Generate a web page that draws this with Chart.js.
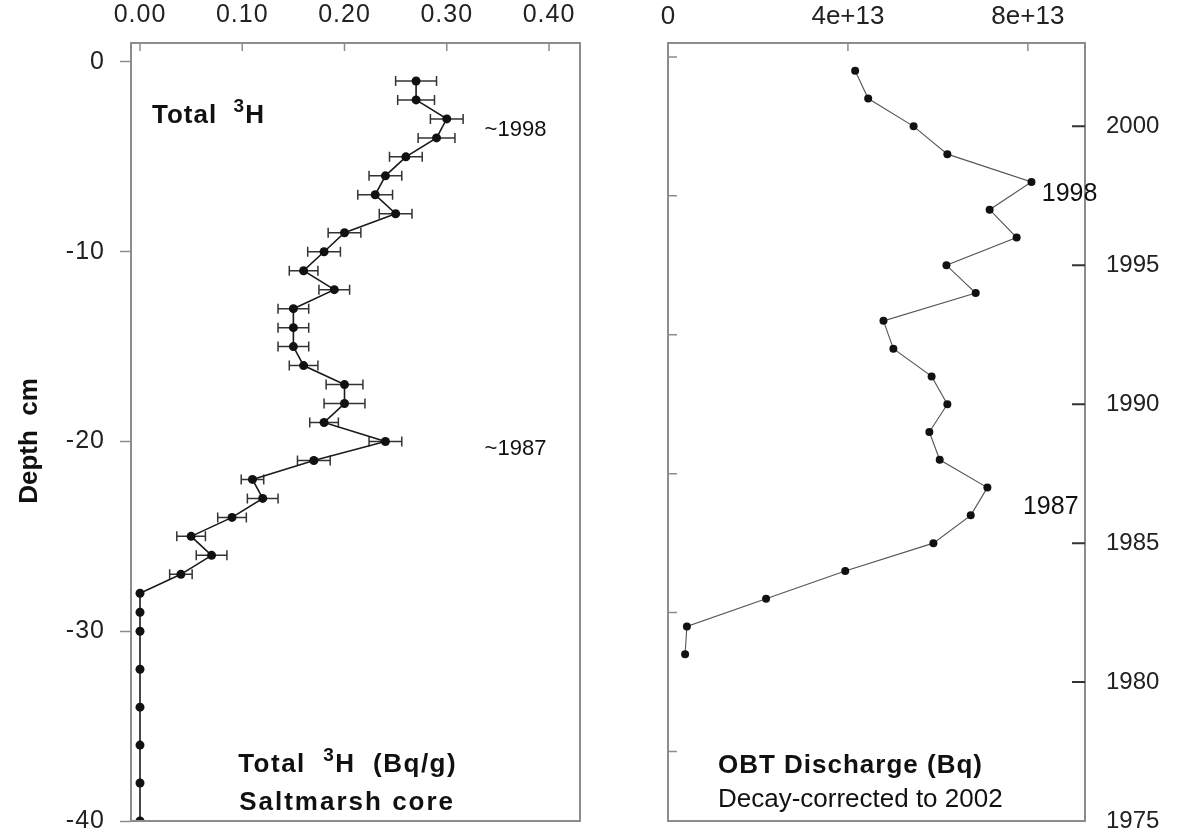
<!DOCTYPE html>
<html>
<head>
<meta charset="utf-8">
<script src="https://cdn.jsdelivr.net/npm/chart.js@4/dist/chart.umd.min.js"></script>
<style>
  body { margin: 0; background: #fff; }
  #wrap { position: relative; width: 1203px; height: 836px; }
  canvas { position: absolute; top: 0; }
  #left { left: 0; }
  #right { left: 600px; }
</style>
</head>
<body>
<div id="wrap">
  <canvas id="left" width="600" height="836"></canvas>
  <canvas id="right" width="603" height="836"></canvas>
</div>
<script>
// Saltmarsh core: depth (cm) and total 3H (Bq/g) with +/- error
const depths = [-1, -2, -3, -4, -5, -6, -7, -8, -9, -10, -11, -12, -13, -14, -15, -16, -17, -18, -19, -20,
                -21, -22, -23, -24, -25, -26, -27, -28, -29, -30, -32, -34, -36, -38, -40];
const tritium = [0.27, 0.27, 0.30, 0.29, 0.26, 0.24, 0.23, 0.25, 0.20, 0.18, 0.16, 0.19, 0.15, 0.15, 0.15, 0.16, 0.20, 0.20, 0.18, 0.24,
                 0.17, 0.11, 0.12, 0.09, 0.05, 0.07, 0.04, 0, 0, 0, 0, 0, 0, 0, 0];
const tritiumErr = [0.02, 0.018, 0.016, 0.018, 0.016, 0.016, 0.017, 0.016, 0.016, 0.016, 0.014, 0.015, 0.015, 0.015, 0.015, 0.014, 0.018, 0.02, 0.014, 0.016,
                    0.016, 0.011, 0.015, 0.014, 0.014, 0.015, 0.011, 0, 0, 0, 0, 0, 0, 0, 0];

// OBT discharge by year (Bq), decay-corrected to 2002
const years = [2002, 2001, 2000, 1999, 1998, 1997, 1996, 1995, 1994, 1993, 1992,
               1991, 1990, 1989, 1988, 1987, 1986, 1985, 1984, 1983, 1982, 1981];
const obt = [4.16e13, 4.45e13, 5.46e13, 6.21e13, 8.08e13, 7.15e13, 7.75e13, 6.19e13, 6.84e13, 4.79e13, 5.01e13,
             5.86e13, 6.21e13, 5.81e13, 6.04e13, 7.10e13, 6.73e13, 5.90e13, 3.94e13, 2.18e13, 0.42e13, 0.38e13];

// tick positions
const tritiumTicks = [0, 0.1, 0.2, 0.3, 0.4];
const depthTicks = [0, -10, -20, -30, -40];
const obtTicks = [0, 4e13, 8e13];
const yearTicks = [1975, 1980, 1985, 1990, 1995, 2000];
const yearMinorTicks = [1977.5, 1982.5, 1987.5, 1992.5, 1997.5, 2002.5];

const fam = '"Liberation Sans", Arial, Helvetica, sans-serif';
const boxColor = '#8c8c8c';

function drawParts(ctx, parts, x, y, size, weight, spacing) {
  let cx = x;
  parts.forEach(p => {
    const s = p.sup ? Math.round(size * 0.72) : size;
    ctx.font = `${weight} ${s}px ${fam}`;
    ctx.letterSpacing = spacing + 'px';
    ctx.fillText(p.t, cx, p.sup ? y - size * 0.42 : y);
    cx += ctx.measureText(p.t).width;
  });
  ctx.letterSpacing = '0px';
}

// fixed axis sizes, no extra label padding so the plot box lands where it should
function fixX(h) {
  return s => { s.height = h; s.paddingLeft = 0; s.paddingRight = 0; };
}
function fixY(w) {
  return s => { s.width = w; s.paddingTop = 0; s.paddingBottom = 0; };
}

// letter spacing for tick labels
const spacing = {
  id: 'spacing',
  beforeDraw(chart, args, opts) { chart.ctx.letterSpacing = (opts.px || 0) + 'px'; },
  afterDraw(chart) { chart.ctx.letterSpacing = '0px'; }
};

// horizontal error bars on the tritium series
const errorBars = {
  id: 'errorBars',
  beforeDatasetsDraw(chart, args, opts) {
    if (!opts.on) return;
    const { ctx, scales: { x, y } } = chart;
    ctx.save();
    ctx.strokeStyle = '#333';
    ctx.lineWidth = 1.5;
    depths.forEach((d, i) => {
      const e = tritiumErr[i];
      if (!e) return;
      const py = y.getPixelForValue(d);
      const x0 = x.getPixelForValue(tritium[i] - e);
      const x1 = x.getPixelForValue(tritium[i] + e);
      ctx.beginPath();
      ctx.moveTo(x0, py); ctx.lineTo(x1, py);
      ctx.moveTo(x0, py - 5); ctx.lineTo(x0, py + 5);
      ctx.moveTo(x1, py - 5); ctx.lineTo(x1, py + 5);
      ctx.stroke();
    });
    ctx.restore();
  }
};

// box around plot area + inward ticks
const frame = {
  id: 'frame',
  afterDraw(chart, args, opts) {
    const { ctx, chartArea: a, scales: { x, y } } = chart;
    ctx.save();
    ctx.strokeStyle = boxColor;
    ctx.lineWidth = 2;
    ctx.strokeRect(a.left, a.top, a.right - a.left, a.bottom - a.top);
    ctx.lineWidth = 1.5;
    ctx.beginPath();
    x.ticks.forEach(t => {
      const px = x.getPixelForValue(t.value);
      if (px - a.left < 3) return;
      ctx.moveTo(px, a.top); ctx.lineTo(px, a.top + 8);
    });
    (opts.leftTicks || []).forEach(v => {
      const py = y.getPixelForValue(v);
      ctx.moveTo(a.left, py); ctx.lineTo(a.left + 9, py);
    });
    ctx.stroke();
    if (opts.rightTicks) {
      ctx.strokeStyle = '#333';
      ctx.lineWidth = 2;
      ctx.beginPath();
      opts.rightTicks.forEach(v => {
        const py = y.getPixelForValue(v);
        if (a.bottom - py < 3) return;
        ctx.moveTo(a.right, py); ctx.lineTo(a.right - 13, py);
      });
      ctx.stroke();
    }
    if (opts.yTitle) {
      ctx.fillStyle = '#111';
      ctx.font = `bold 26px "Liberation Sans Narrow", "Arial Narrow", ${fam}`;
      ctx.textAlign = 'center';
      ctx.textBaseline = 'middle';
      ctx.translate(30, (a.top + a.bottom) / 2 + 9);
      ctx.rotate(-Math.PI / 2);
      ctx.fillText(opts.yTitle, 0, 0);
    }
    ctx.restore();
  }
};

// text notes placed in data coordinates
const notes = {
  id: 'notes',
  afterDraw(chart, args, opts) {
    const { ctx, scales: { x, y } } = chart;
    ctx.save();
    ctx.fillStyle = '#111';
    ctx.textAlign = 'left';
    ctx.textBaseline = 'alphabetic';
    (opts.items || []).forEach(n => {
      drawParts(ctx, n.parts, x.getPixelForValue(n.x), y.getPixelForValue(n.y), n.size, n.weight || 'normal', n.spacing || 0);
    });
    ctx.restore();
  }
};

const tickFont = size => ({ family: fam, size: size });

new Chart(document.getElementById('left'), {
  type: 'scatter',
  data: {
    datasets: [{
      data: depths.map((d, i) => ({ x: tritium[i], y: d })),
      showLine: true,
      borderColor: '#1a1a1a',
      borderWidth: 1.6,
      pointRadius: 4.5,
      pointBackgroundColor: '#111',
      pointBorderWidth: 0
    }]
  },
  options: {
    responsive: false,
    animation: false,
    layout: { padding: { left: 0, right: 20, top: 0, bottom: 15 } },
    plugins: {
      legend: { display: false },
      tooltip: { enabled: false },
      spacing: { px: 1 },
      errorBars: { on: true },
      frame: { yTitle: 'Depth  cm' },
      notes: {
        items: [
          { x: 0.0117, y: -3.21, size: 26, weight: 'bold', spacing: 1, parts: [{ t: 'Total  ' }, { t: '3', sup: true }, { t: 'H' }] },
          { x: 0.337, y: -3.9, size: 22, parts: [{ t: '~1998' }] },
          { x: 0.337, y: -20.7, size: 22, parts: [{ t: '~1987' }] },
          { x: 0.096, y: -37.42, size: 26, weight: 'bold', spacing: 1.5, parts: [{ t: 'Total  ' }, { t: '3', sup: true }, { t: 'H  (Bq/g)' }] },
          { x: 0.097, y: -39.42, size: 26, weight: 'bold', spacing: 2, parts: [{ t: 'Saltmarsh core' }] }
        ]
      }
    },
    scales: {
      x: {
        type: 'linear',
        position: 'top',
        min: -0.0088,
        max: 0.4303,
        afterFit: fixX(43),
        afterBuildTicks: s => { s.ticks = tritiumTicks.map(v => ({ value: v })); },
        grid: { display: false },
        border: { display: false },
        ticks: { padding: 5, color: '#222', font: tickFont(25), maxRotation: 0, callback: v => v.toFixed(2) }
      },
      y: {
        type: 'linear',
        min: -40,
        max: 1,
        afterFit: fixY(131),
        afterBuildTicks: s => { s.ticks = depthTicks.map(v => ({ value: v })); },
        grid: { drawOnChartArea: false, drawTicks: true, tickLength: 11, tickColor: boxColor, tickWidth: 1.5 },
        border: { display: false },
        ticks: { padding: 15, color: '#222', font: tickFont(25), callback: v => String(v) }
      }
    }
  },
  plugins: [spacing, errorBars, frame, notes]
});

new Chart(document.getElementById('right'), {
  type: 'scatter',
  data: {
    datasets: [{
      data: years.map((yr, i) => ({ x: obt[i], y: yr })),
      showLine: true,
      borderColor: '#555',
      borderWidth: 1.1,
      pointRadius: 4,
      pointBackgroundColor: '#111',
      pointBorderWidth: 0
    }]
  },
  options: {
    responsive: false,
    animation: false,
    layout: { padding: { left: 68, right: 0, top: 0, bottom: 15 } },
    plugins: {
      legend: { display: false },
      tooltip: { enabled: false },
      spacing: { px: 0 },
      errorBars: { on: false },
      frame: { leftTicks: yearMinorTicks, rightTicks: yearTicks },
      notes: {
        items: [
          { x: 8.31e13, y: 1997.31, size: 25, parts: [{ t: '1998' }] },
          { x: 7.89e13, y: 1986.05, size: 25, parts: [{ t: '1987' }] },
          { x: 1.11e13, y: 1976.73, size: 26, weight: 'bold', spacing: 1, parts: [{ t: 'OBT Discharge (Bq)' }] },
          { x: 1.11e13, y: 1975.5, size: 26, parts: [{ t: 'Decay-corrected to 2002' }] }
        ]
      }
    },
    scales: {
      x: {
        type: 'linear',
        position: 'top',
        min: 0,
        max: 9.27e13,
        afterFit: fixX(43),
        afterBuildTicks: s => { s.ticks = obtTicks.map(v => ({ value: v })); },
        grid: { display: false },
        border: { display: false },
        ticks: { padding: 3, color: '#222', font: tickFont(26), maxRotation: 0, callback: v => v === 0 ? '0' : v.toExponential() }
      },
      y: {
        type: 'linear',
        position: 'right',
        min: 1975,
        max: 2003,
        afterFit: fixY(118),
        afterBuildTicks: s => { s.ticks = yearTicks.map(v => ({ value: v })); },
        grid: { display: false },
        border: { display: false },
        ticks: { padding: 13, color: '#222', font: tickFont(24), callback: v => String(v) }
      }
    }
  },
  plugins: [spacing, errorBars, frame, notes]
});
</script>
</body>
</html>
